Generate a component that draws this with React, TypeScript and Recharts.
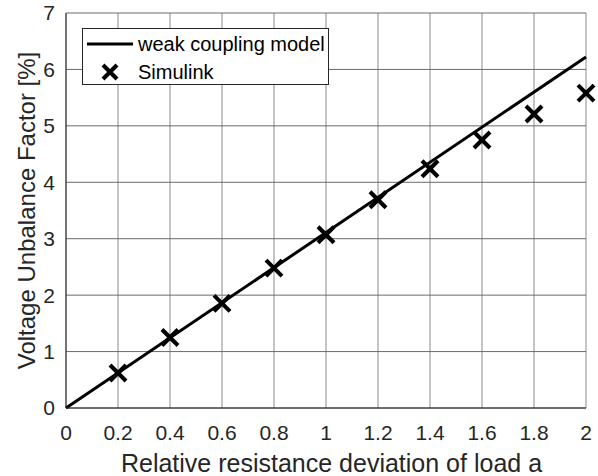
import React from "react";
import {
  ComposedChart,
  Line,
  Scatter,
  XAxis,
  YAxis,
  CartesianGrid,
  Legend,
  Label,
} from "recharts";

const modelX = [0, 2];
const modelY = [0, 6.22];
const simX = [0.2, 0.4, 0.6, 0.8, 1.0, 1.2, 1.4, 1.6, 1.8, 2.0];
const simY = [0.62, 1.25, 1.855, 2.48, 3.07, 3.69, 4.24, 4.75, 5.21, 5.58];
const xTicks = [0, 0.2, 0.4, 0.6, 0.8, 1, 1.2, 1.4, 1.6, 1.8, 2];
const yTicks = [0, 1, 2, 3, 4, 5, 6, 7];
const modelName = "weak coupling model";
const simName = "Simulink";
const xLabel = "Relative resistance deviation of load a";
const yLabel = "Voltage Unbalance Factor [%]";

const modelData = modelX.map((x, i) => ({ x, y: modelY[i] }));
const simData = simX.map((x, i) => ({ x, y: simY[i] }));

const FONT = "'Liberation Sans', Arial, Helvetica, sans-serif";
const TEXT = "#262626";

const XMark = (props: any) => {
  const { cx, cy } = props;
  if (cx == null || cy == null) return null;
  const s = 8;
  return (
    <g>
      <line x1={cx - s} y1={cy - s} x2={cx + s} y2={cy + s} stroke="#000" strokeWidth={4} />
      <line x1={cx - s} y1={cy + s} x2={cx + s} y2={cy - s} stroke="#000" strokeWidth={4} />
    </g>
  );
};

const LegendBox = (props: any) => {
  const payload: any[] = props.payload || [];
  const sorted = [...payload].sort((a, b) => (a.type === "line" ? -1 : 1) - (b.type === "line" ? -1 : 1));
  return (
    <div
      style={{
        width: 245,
        height: 55,
        border: "1px solid #262626",
        background: "#fff",
        boxSizing: "content-box",
        fontFamily: FONT,
        fontSize: 20,
        color: "#000",
      }}
    >
      {sorted.map((e, i) => (
        <div key={i} style={{ position: "absolute", left: 0, top: 2 + i * 28, height: 28, display: "flex", alignItems: "center" }}>
          <svg width={56} height={28} style={{ display: "block" }}>
            {e.type === "line" ? (
              <line x1={5} y1={14} x2={51} y2={14} stroke="#000" strokeWidth={3} />
            ) : (
              <g>
                <line x1={21} y1={7} x2={35} y2={21} stroke="#000" strokeWidth={4} />
                <line x1={21} y1={21} x2={35} y2={7} stroke="#000" strokeWidth={4} />
              </g>
            )}
          </svg>
          <span style={{ whiteSpace: "nowrap", lineHeight: "28px" }}>{e.value}</span>
        </div>
      ))}
    </div>
  );
};

export default function App() {
  return (
    <div style={{ position: "absolute", left: 0, top: 0, width: 598, height: 476, background: "#fff" }}>
      <ComposedChart
        width={598}
        height={476}
        margin={{ top: 13, right: 12, left: 0, bottom: 0 }}
        style={{ fontFamily: FONT, overflow: "visible" }}
      >
        <CartesianGrid horizontal={false} stroke="#8a8a8a" strokeWidth={1} />
        <CartesianGrid vertical={false} stroke="#6a6a6a" strokeWidth={1} />
        <XAxis
          dataKey="x"
          type="number"
          domain={[0, 2]}
          ticks={xTicks}
          interval={0}
          height={68}
          tickSize={0}
          tickMargin={17}
          tickLine={false}
          axisLine={{ stroke: TEXT, strokeWidth: 1 }}
          tick={{ fill: TEXT, fontSize: 21, fontFamily: FONT }}
        >
          <Label
            value={xLabel}
            position="insideBottom"
            offset={4}
            dx={5.5}
            style={{ fill: TEXT, fontSize: 25, fontFamily: FONT }}
          />
        </XAxis>
        <XAxis
          xAxisId="top"
          orientation="top"
          type="number"
          domain={[0, 2]}
          height={0}
          tick={false}
          tickLine={false}
          axisLine={{ stroke: TEXT, strokeWidth: 1 }}
        />
        <YAxis
          type="number"
          domain={[0, 7]}
          ticks={yTicks}
          interval={0}
          width={66}
          tickSize={0}
          tickMargin={11}
          tickLine={false}
          axisLine={{ stroke: TEXT, strokeWidth: 1 }}
          tick={{ fill: TEXT, fontSize: 21, fontFamily: FONT }}
        >
          <Label
            value={yLabel}
            angle={-90}
            position="center"
            dx={-7}
            dy={0}
            style={{ fill: TEXT, fontSize: 24, fontFamily: FONT, textAnchor: "middle" }}
          />
        </YAxis>
        <YAxis
          yAxisId="right"
          orientation="right"
          type="number"
          domain={[0, 7]}
          width={0}
          tick={false}
          tickLine={false}
          axisLine={{ stroke: TEXT, strokeWidth: 1 }}
        />
        <Legend
          layout="vertical"
          align="center"
          verticalAlign="middle"
          content={<LegendBox />}
          wrapperStyle={{ position: "absolute", left: 82, top: 28, width: 247, height: 57 }}
        />
        <Line
          data={modelData}
          dataKey="y"
          name={modelName}
          type="linear"
          stroke="#000"
          strokeWidth={3}
          dot={false}
          activeDot={false}
          legendType="line"
          isAnimationActive={false}
        />
        <Scatter
          data={simData}
          dataKey="y"
          name={simName}
          shape={<XMark />}
          legendType="cross"
          fill="#000"
          isAnimationActive={false}
        />
      </ComposedChart>
    </div>
  );
}
